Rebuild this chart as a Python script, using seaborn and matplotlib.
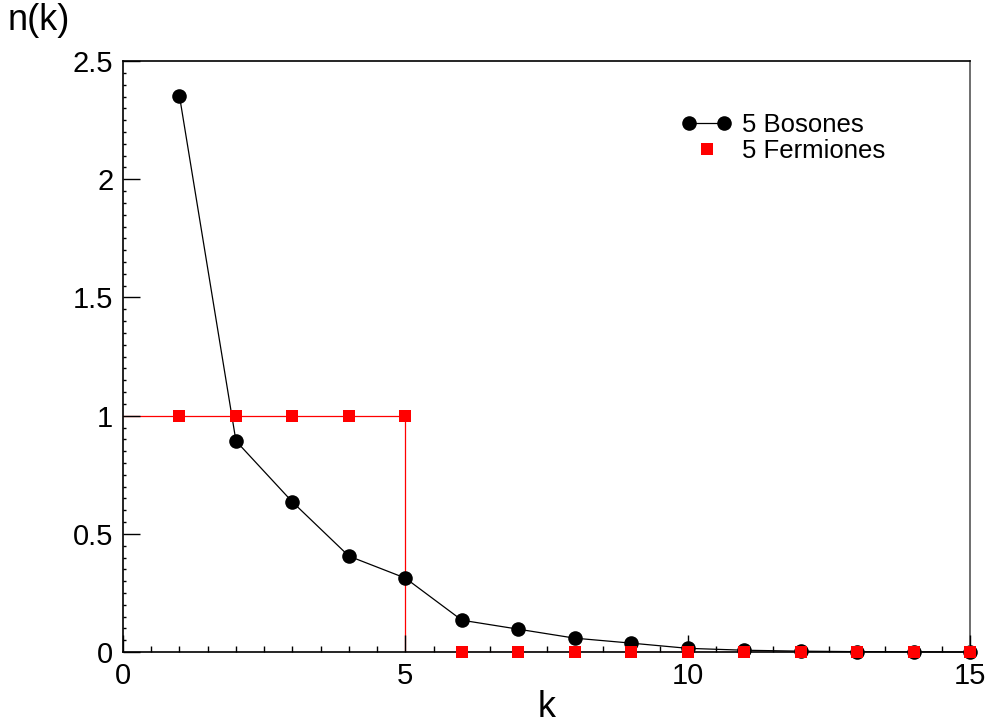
import numpy as np
import pandas as pd
import seaborn as sns
import matplotlib.pyplot as plt
from matplotlib.lines import Line2D
from matplotlib.legend_handler import HandlerLine2D
from matplotlib.ticker import MultipleLocator

# datos
k = np.arange(1, 16)
bosones = [2.352, 0.893, 0.635, 0.406, 0.313, 0.135, 0.097, 0.059, 0.038,
           0.016, 0.008, 0.004, 0.002, 0.001, 0.0005]
fermiones = [1, 1, 1, 1, 1, 0, 0, 0, 0, 0, 0, 0, 0, 0, 0]

df = pd.DataFrame({'k': k, 'bosones': bosones, 'fermiones': fermiones})

sns.set_style('white')
plt.rcParams['font.family'] = ['Liberation Sans', 'DejaVu Sans']
plt.rcParams['text.color'] = 'black'
plt.rcParams['axes.labelcolor'] = 'black'
plt.rcParams['xtick.color'] = 'black'
plt.rcParams['ytick.color'] = 'black'

fig = plt.figure(figsize=(9.92, 7.27), dpi=100)
ax = fig.add_axes([0.124, 0.103, 0.854, 0.813])

# histograma de fermiones (escalon desde 0)
xs = np.concatenate([[0], df['k']])
ys = np.concatenate([[df['fermiones'].iloc[0]], df['fermiones']])
ax.step(xs, ys, where='pre', color='red', lw=0.9, zorder=1)

sns.lineplot(data=df, x='k', y='bosones', ax=ax, color='black', lw=0.9,
             marker='o', markersize=10.5, markeredgewidth=0, clip_on=False,
             zorder=2)
sns.scatterplot(data=df, x='k', y='fermiones', ax=ax, color='red', marker='s',
                s=75, linewidth=0, clip_on=False, zorder=3)

ax.set_xlim(0, 15)
ax.set_ylim(0, 2.5)
ax.xaxis.set_major_locator(MultipleLocator(5))
ax.xaxis.set_minor_locator(MultipleLocator(0.5))
ax.yaxis.set_major_locator(MultipleLocator(0.5))
ax.yaxis.set_minor_locator(MultipleLocator(0.05))
ax.yaxis.set_major_formatter(plt.FuncFormatter(lambda v, p: f'{v:g}'))
ax.xaxis.set_major_formatter(plt.FuncFormatter(lambda v, p: f'{v:g}'))
ax.tick_params(which='both', direction='in', top=False, right=False,
               bottom=True, left=True, labelsize=21, color='black', width=1)
ax.tick_params(axis='x', which='major', length=12, pad=7)
ax.tick_params(axis='x', which='minor', length=4.5)
ax.tick_params(axis='y', which='major', length=12, pad=7)
ax.tick_params(axis='y', which='minor', length=2)
ax.set_axisbelow(False)
for s in ax.spines.values():
    s.set_color('black')
    s.set_linewidth(1.2)
ax.spines['right'].set_color('#555555')

ax.set_xlabel('k', fontsize=26, labelpad=0)
ax.set_ylabel('')
fig.text(0.008, 0.972, 'n(k)', fontsize=26, ha='left', va='center')

h_bos = Line2D([], [], color='black', lw=0.9, marker='o', markersize=10.5,
               markeredgewidth=0)
h_fer = Line2D([], [], color='red', lw=0, marker='s', markersize=8,
               markeredgewidth=0)
ax.legend([h_bos, h_fer], ['5 Bosones', '5 Fermiones'], frameon=False,
          fontsize=18.5, loc='upper left', bbox_to_anchor=(0.632, 0.952),
          handlelength=1.95, handletextpad=0.42, labelspacing=0.1,
          handler_map={h_bos: HandlerLine2D(numpoints=2),
                       h_fer: HandlerLine2D(numpoints=1)})

fig.savefig('out.png', dpi=100)
